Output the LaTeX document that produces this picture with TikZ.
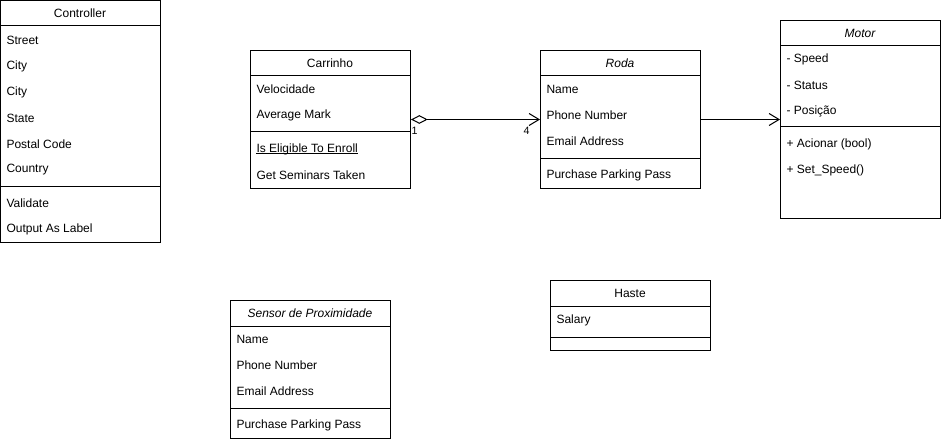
\documentclass[tikz,border=0pt]{standalone}
\usepackage{fontspec}
\setmainfont{Liberation Sans}
\usetikzlibrary{arrows.meta}
\begin{document}
\begin{tikzpicture}[x=0.75pt,y=-0.75pt,line width=0.75pt,
  cls/.style={draw,anchor=north west,inner sep=0pt,minimum width=120pt},
  hdr/.style={inner sep=0pt,anchor=center,font=\fontsize{9pt}{10pt}\selectfont},
  row/.style={inner sep=0pt,anchor=west,font=\fontsize{9pt}{10pt}\selectfont},
  mult/.style={inner sep=0pt,font=\fontsize{8pt}{9pt}\selectfont},
  sep/.style={line width=0.75pt}]
\useasboundingbox (0,0) rectangle (941,442);
% Controller
\node[cls,minimum height=181.5pt] (ctrl) at (0,0) {};
\node[hdr] (ctrlh) at (80,13) {Controller};
\draw[sep] (0,26) -- (160,26);
\node[row] (c1) at (6,40) {Street};
\node[row] (c2) at (6,66) {City};
\node[row] (c3) at (6,92) {City};
\node[row] (c4) at (6,118) {State};
\node[row] (c5) at (6,144) {Postal Code};
\node[row] (c6) at (6,170) {Country};
\draw[sep] (0,186) -- (160,186);
\node[row] (c7) at (6,203) {Validate};
\node[row] (c8) at (6,229) {Output As Label};
% Carrinho
\node[cls,minimum height=103.5pt] (carr) at (250,50) {};
\node[hdr] (carrh) at (330,63) {Carrinho};
\draw[sep] (250,76) -- (410,76);
\node[row] (a1) at (256,89) {Velocidade};
\node[row] (a2) at (256,115) {Average Mark};
\draw[sep] (250,132) -- (410,132);
\node[row] (a3) at (256,149) {Is Eligible To Enroll};
\draw[line width=0.6pt] ([yshift=-1.2pt]a3.base west) -- ([yshift=-1.2pt]a3.base east);
\node[row] (a4) at (256,175) {Get Seminars Taken};
% Roda
\node[cls,minimum height=103.5pt] (roda) at (540,50) {};
\node[hdr] (rodah) at (620,63) {\itshape Roda};
\draw[sep] (540,76) -- (700,76);
\node[row] (r1) at (546,89) {Name};
\node[row] (r2) at (546,115) {Phone Number};
\node[row] (r3) at (546,141) {Email Address};
\draw[sep] (540,158) -- (700,158);
\node[row] (r4) at (546,175) {Purchase Parking Pass};
% Motor
\node[cls,minimum height=148.5pt] (motor) at (780,20) {};
\node[hdr] (motorh) at (860,33) {\itshape Motor};
\draw[sep] (780,46) -- (940,46);
\node[row] (m1) at (786,59) {- Speed};
\node[row] (m2) at (786,85) {- Status};
\node[row] (m3) at (786,111) {- Posição};
\draw[sep] (780,127) -- (940,127);
\node[row] (m4) at (786,144) {+ Acionar (bool)};
\node[row] (m5) at (786,170) {+ Set\_Speed()};
% Sensor
\node[cls,minimum height=103.5pt] (sens) at (230,300) {};
\node[hdr] (sensh) at (310,313) {\itshape Sensor de Proximidade};
\draw[sep] (230,326) -- (390,326);
\node[row] (s1) at (236,339) {Name};
\node[row] (s2) at (236,365) {Phone Number};
\node[row] (s3) at (236,391) {Email Address};
\draw[sep] (230,408) -- (390,408);
\node[row] (s4) at (236,425) {Purchase Parking Pass};
% Haste
\node[cls,minimum height=52.5pt] (haste) at (550,280) {};
\node[hdr] (hasteh) at (630,293) {Haste};
\draw[sep] (550,306) -- (710,306);
\node[row] (h1) at (556,320) {Salary};
\draw[sep] (550,337) -- (710,337);
% connectors
\draw[{Diamond[open,length=12.5pt,width=6.5pt]}-{Straight Barb[length=7.5pt,width=9pt]}] (carr.east) -- (roda.west);
\node[mult,anchor=west] (m1l) at (411,131) {1};
\node[mult,anchor=east] (m4l) at (530,131) {4};
\draw[-{Straight Barb[length=7.5pt,width=9pt]}] (roda.east) -- (motor.west);
\end{tikzpicture}
\end{document}
